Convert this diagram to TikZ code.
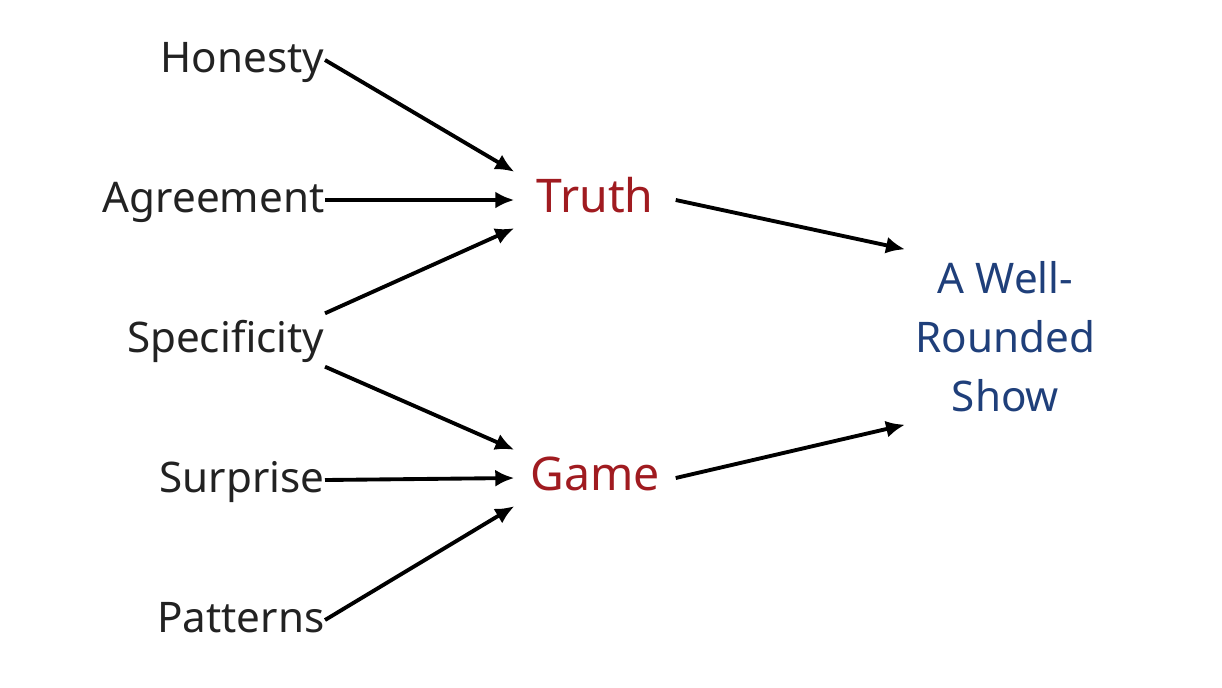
\documentclass[tikz,border=0pt]{standalone}
\usepackage{fontspec}
\setmainfont{Noto Sans}
\usepackage{xcolor}
\usepackage{tikz}
\usetikzlibrary{arrows.meta,positioning,calc}

\definecolor{labelgray}{HTML}{222222}
\definecolor{truthred}{HTML}{A01B20}
\definecolor{showblue}{HTML}{1F3F7A}

\begin{document}
\begin{tikzpicture}[
    factor/.style={anchor=east, inner sep=0pt, text height=0.714em, text depth=0pt,
        minimum height=0.52cm, font=\fontsize{12}{14}\selectfont, text=labelgray},
    pillar/.style={inner sep=0pt, text height=0.714em, text depth=0pt,
        minimum height=0.55cm, minimum width=1.6cm, font=\fontsize{13.2}{16}\selectfont, text=truthred},
    goal/.style={align=center, inner xsep=0.1cm, minimum height=1.66cm,
        font=\fontsize{12}{16.8}\selectfont, text=showblue},
    feed/.style={line width=1.1pt, -{Latex[length=0.19cm, width=0.17cm]}}
]
    \useasboundingbox (0,0) rectangle (12.22,-6.87);

    % Left column of factors
    \node[factor] (honesty) at (3.25,-0.60) {Honesty};
    \node[factor] (agreement) at (3.25,-2.00) {Agreement};
    \node[factor] (specificity) at (3.25,-3.40) {Specificity};
    \node[factor] (surprise) at (3.25,-4.80) {Surprise};
    \node[factor] (patterns) at (3.25,-6.20) {Patterns};

    % Middle column
    \node[pillar] (truth) at (5.95,-2.00) {Truth};
    \node[pillar] (game) at (5.95,-4.78) {Game};

    % Result
    \node[goal, anchor=west] (show) at (9.05,-3.37) {A Well-\\Rounded\\Show};

    % Arrows into Truth
    \draw[feed] (honesty.east) -- (truth.north west);
    \draw[feed] (agreement.east) -- (truth.west);
    \draw[feed] (specificity.north east) -- (truth.south west);

    % Arrows into Game
    \draw[feed] (specificity.south east) -- (game.north west);
    \draw[feed] (surprise.east) -- (game.west);
    \draw[feed] (patterns.east) -- (game.south west);

    % Arrows into the show
    \draw[feed] (truth.east) -- (show.north west);
    \draw[feed] (game.east) -- (show.south west);
\end{tikzpicture}
\end{document}
